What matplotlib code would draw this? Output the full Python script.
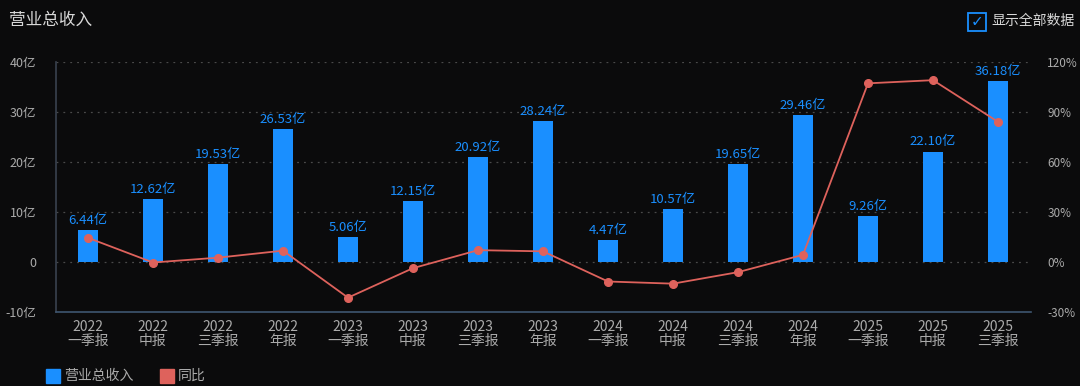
import matplotlib
matplotlib.use("Agg")
import matplotlib.pyplot as plt
from matplotlib.patches import Rectangle

plt.rcParams['font.family'] = ['Noto Sans CJK SC', 'DejaVu Sans']

# donnees
annees = ['2022', '2022', '2022', '2022', '2023', '2023', '2023', '2023',
          '2024', '2024', '2024', '2024', '2025', '2025', '2025']
periodes = ['一季报', '中报', '三季报', '年报', '一季报', '中报', '三季报', '年报',
            '一季报', '中报', '三季报', '年报', '一季报', '中报', '三季报']
revenu = [6.44, 12.62, 19.53, 26.53, 5.06, 12.15, 20.92, 28.24,
          4.47, 10.57, 19.65, 29.46, 9.26, 22.10, 36.18]  # 亿
yoy = [14.5, -0.3, 2.6, 6.8, -21.4, -3.7, 7.1, 6.4,
       -11.7, -13.0, -6.1, 4.3, 107.2, 109.1, 84.1]  # %
ticks_g = [-10, 0, 10, 20, 30, 40]
ticks_d = [-30, 0, 30, 60, 90, 120]

bg = '#0b0b0c'
bleu = '#1a8fff'
rouge = '#de625c'
gris = '#ababab'

fig = plt.figure(figsize=(10.8, 3.86), dpi=100, facecolor=bg)
ax = fig.add_axes([55.5/1080, 1-312/386, 975/1080, 250/386], facecolor=bg)
x = list(range(len(revenu)))

ax.bar(x, revenu, width=0.31, color=bleu, zorder=2)
for xi, v in zip(x, revenu):
    ax.text(xi, v + 0.6, '%.2f亿' % v, color=bleu, fontsize=9.5,
            ha='center', va='bottom', zorder=3)

ax.set_ylim(-10, 40)
ax.set_xlim(-0.5, len(revenu) - 0.5)
ax.set_yticks(ticks_g)
ax.set_yticklabels([('%d亿' % t) if t != 0 else '0' for t in ticks_g])
ax.set_xticks(x)
ax.set_xticklabels([a + '\n' + p for a, p in zip(annees, periodes)],
                   linespacing=0.95)
ax.tick_params(axis='y', colors=gris, labelsize=9, length=0, pad=14)
ax.tick_params(axis='x', colors=gris, labelsize=10, length=0, pad=6)
for t in ticks_g[1:]:
    ax.axhline(t, color='#4a4a4a', linestyle=(0, (1.5, 4)), linewidth=0.9, zorder=0)

for s in ['top', 'right']:
    ax.spines[s].set_visible(False)
ax.spines['left'].set_color('#39424f')
ax.spines['bottom'].set_color('#3e5670')
ax.spines['left'].set_linewidth(1.2)
ax.spines['bottom'].set_linewidth(1.2)

ax2 = ax.twinx()
ax2.plot(x, yoy, color=rouge, linewidth=1.3, marker='o', markersize=5.5, zorder=4)
ax2.set_ylim(-30, 120)
ax2.set_yticks(ticks_d)
ax2.set_yticklabels(['%d%%' % t for t in ticks_d])
ax2.tick_params(axis='y', colors=gris, labelsize=8.5, length=0, pad=12)
for s in ax2.spines.values():
    s.set_visible(False)

# titre et case a cocher
fig.text(9/1080, 1-20/386, '营业总收入', color='#d8d8d8', fontsize=12, va='center')
fig.patches.append(Rectangle((968/1080, 1-31/386), 18/1080, 18/386,
                             transform=fig.transFigure, fill=False,
                             edgecolor=bleu, linewidth=1.3))
fig.text(977/1080, 1-22/386, '✓', color=bleu, fontsize=11, ha='center',
         va='center', family=['DejaVu Sans'])
fig.text(991/1080, 1-21/386, '显示全部数据', color='#d8d8d8', fontsize=10, va='center')

# legende
fig.patches.append(Rectangle((46/1080, 1-383/386), 14/1080, 14/386,
                             transform=fig.transFigure, color=bleu))
fig.text(64/1080, 1-376/386, '营业总收入', color=gris, fontsize=10, va='center')
fig.patches.append(Rectangle((160/1080, 1-383/386), 14/1080, 14/386,
                             transform=fig.transFigure, color=rouge))
fig.text(178/1080, 1-376/386, '同比', color=gris, fontsize=10, va='center')

fig.savefig('out.png', dpi=100, facecolor=bg)
